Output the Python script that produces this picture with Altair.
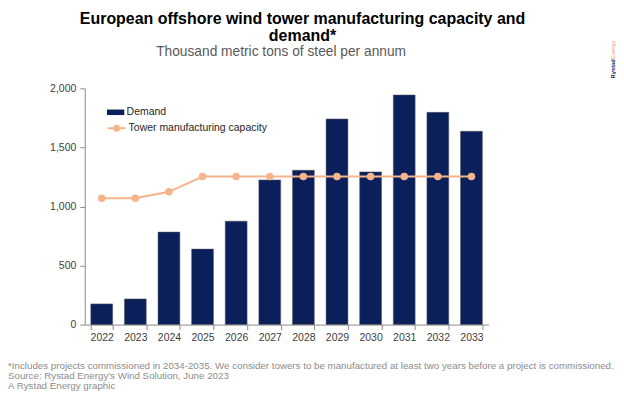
import altair as alt
import pandas as pd

years = ["2022", "2023", "2024", "2025", "2026", "2027", "2028", "2029", "2030", "2031", "2032", "2033"]
demand = [175, 217, 783, 639, 876, 1225, 1307, 1741, 1293, 1944, 1797, 1637]
capacity = [1070, 1070, 1124, 1254, 1254, 1254, 1254, 1254, 1254, 1254, 1254, 1254]

title_lines = ["European offshore wind tower manufacturing capacity and", "demand*"]
subtitle = "Thousand metric tons of steel per annum"
footnotes = [
    "*Includes projects commissioned in 2034-2035. We consider towers to be manufactured at least two years before a project is commissioned.",
    "Source: Rystad Energy's Wind Solution, June 2023",
    "A Rystad Energy graphic",
]

NAVY = "#0b1f5b"
PEACH = "#f4b48c"
FONT = "Liberation Sans"

df = pd.DataFrame({
    "year": years,
    "demand": demand,
    "capacity": capacity,
    "s1": ["Demand"] * len(years),
    "s2": ["Tower manufacturing capacity"] * len(years),
})

x = alt.X("year:N", title=None, sort=years,
          scale=alt.Scale(paddingInner=0.35, paddingOuter=0.18),
          axis=alt.Axis(labelAngle=0, tickBand="extent", labelFontSize=10.5,
                        labelColor="#404040", domainColor="#8c8c8c", tickColor="#8c8c8c",
                        tickSize=5, labelPadding=3, labelFont=FONT))

bars = alt.Chart(df).mark_bar(stroke="#5a5a5a", strokeWidth=0.5).encode(
    x=x,
    y=alt.Y("demand:Q", title=None,
            scale=alt.Scale(domain=[0, 2000]),
            axis=alt.Axis(values=[0, 500, 1000, 1500, 2000], format=",.0f", grid=False,
                          labelFontSize=10.5, labelColor="#404040", domainColor="#8c8c8c",
                          tickColor="#8c8c8c", tickSize=5, labelPadding=4, labelFont=FONT)),
    color=alt.Color("s1:N", scale=alt.Scale(domain=["Demand"], range=[NAVY]),
                    legend=alt.Legend(title=None, orient="none", legendX=22, legendY=15,
                                      symbolType="M-1,-0.32L1,-0.32L1,0.32L-1,0.32Z",
                                      symbolSize=300, symbolStrokeWidth=0,
                                      labelFontSize=10.5, labelColor="#262626", labelFont=FONT,
                                      labelOffset=2)),
)

line = alt.Chart(df).mark_line(strokeWidth=2, point=alt.OverlayMarkDef(filled=True, size=32, color=PEACH)).encode(
    x=alt.X("year:N", sort=years),
    y=alt.Y("capacity:Q"),
    stroke=alt.Stroke("s2:N", scale=alt.Scale(domain=["Tower manufacturing capacity"], range=[PEACH]),
                      legend=alt.Legend(title=None, orient="none", legendX=22, legendY=30,
                                        symbolType="M-1,0L1,0M-0.28,0A0.28,0.28,0,1,1,0.28,0A0.28,0.28,0,1,1,-0.28,0Z",
                                        symbolSize=324, symbolStrokeWidth=2, symbolFillColor=PEACH,
                                        labelFontSize=10.5, labelColor="#262626", labelFont=FONT,
                                        labelOffset=2)),
)


def text_layer(t, xv, yv, **kw):
    return alt.Chart(pd.DataFrame({"t": [t]})).mark_text(font=FONT, **kw).encode(
        x=alt.value(xv), y=alt.value(yv), text="t:N")


texts = []
for i, t in enumerate(title_lines):
    texts.append(text_layer(t, 218.5, -65 + 17 * i, align="center", baseline="alphabetic",
                            fontSize=16, fontWeight="bold", color="#000000"))
texts.append(text_layer(subtitle, 197, -32.5, align="center", baseline="alphabetic",
                        fontSize=13.8, color="#595959"))
for i, t in enumerate(footnotes):
    texts.append(text_layer(t, -77, 282 + 10 * i, align="left", baseline="alphabetic",
                            fontSize=9.8, color="#8c8c8c"))
texts.append(text_layer("Rystad", 530, -10, align="left", baseline="middle", angle=270,
                        fontSize=5.8, fontWeight="bold", color=NAVY))
texts.append(text_layer("Energy", 530, -29.5, align="left", baseline="middle", angle=270,
                        fontSize=5.8, color="#e8a06a"))

chart = alt.layer(bars, line, *texts).resolve_scale(
    color="independent"
).properties(
    width=405, height=237,
    padding={"left": 77, "top": 80, "right": 128, "bottom": 69},
    autosize=alt.AutoSizeParams(type="none"),
    background="white",
).configure_view(stroke=None)

chart.save("out.html", embed_options={"renderer": "svg", "actions": False})
